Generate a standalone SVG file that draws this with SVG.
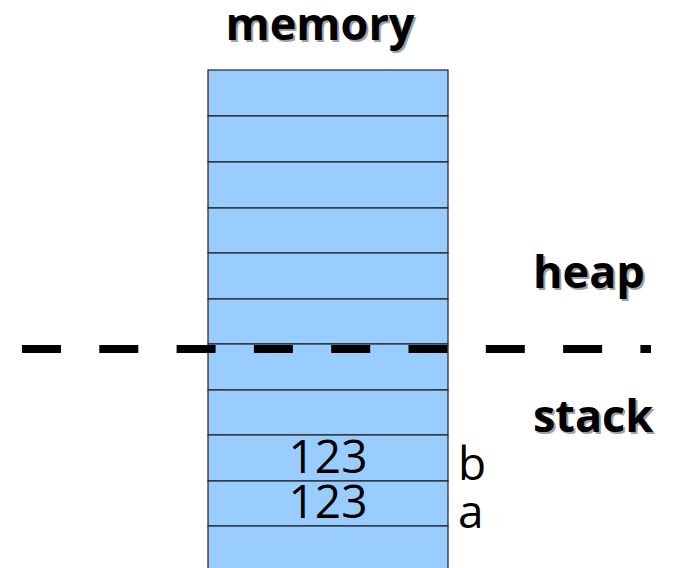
<svg xmlns="http://www.w3.org/2000/svg" width="677" height="568" viewBox="0 0 677 568">
  <style>
    .cell { fill: #99ccff; stroke: #222; stroke-width: 1.2; }
    .title { font-family: "Open Sans", "Noto Sans", sans-serif; font-weight: bold; font-size: 45px; }
    .shadow { fill: #a0a0a0; }
    .ink { fill: #000; }
    .val { font-family: "Open Sans", "Noto Sans", sans-serif; font-size: 46px; fill: #000; }
  </style>
  <rect width="677" height="568" fill="#fff"/>

  <!-- memory column: stacked cells -->
  <g id="memory-column">
    <rect class="cell" x="208" y="70" width="240" height="46"/>
    <rect class="cell" x="208" y="116" width="240" height="46"/>
    <rect class="cell" x="208" y="162" width="240" height="46"/>
    <rect class="cell" x="208" y="208" width="240" height="45"/>
    <rect class="cell" x="208" y="253" width="240" height="46"/>
    <rect class="cell" x="208" y="299" width="240" height="45"/>
    <rect class="cell" x="208" y="344" width="240" height="46"/>
    <rect class="cell" x="208" y="390" width="240" height="45"/>
    <rect class="cell" x="208" y="435" width="240" height="46"/>
    <rect class="cell" x="208" y="481" width="240" height="45"/>
    <rect class="cell" x="208" y="526" width="240" height="60"/>
  </g>

  <!-- heap / stack boundary -->
  <g id="connectors">
    <line x1="22" y1="349" x2="651" y2="349" stroke="#000" stroke-width="8" stroke-dasharray="39 38.3"/>
  </g>

  <g id="cell-values">
    <text class="val" x="328" y="473" text-anchor="middle">123</text>
    <text class="val" x="328" y="518" text-anchor="middle">123</text>
  </g>

  <g id="variable-names">
    <text class="val" x="458" y="480">b</text>
    <text class="val" x="458" y="528">a</text>
  </g>

  <!-- headings with drop shadow -->
  <g id="label-memory" class="title">
    <text class="shadow" x="322" y="42" text-anchor="middle">memory</text>
    <text class="ink" x="320" y="40" text-anchor="middle">memory</text>
  </g>
  <g id="label-heap" class="title">
    <text class="shadow" x="535" y="290">heap</text>
    <text class="ink" x="533" y="288">heap</text>
  </g>
  <g id="label-stack" class="title">
    <text class="shadow" x="535" y="434">stack</text>
    <text class="ink" x="533" y="432">stack</text>
  </g>
</svg>
